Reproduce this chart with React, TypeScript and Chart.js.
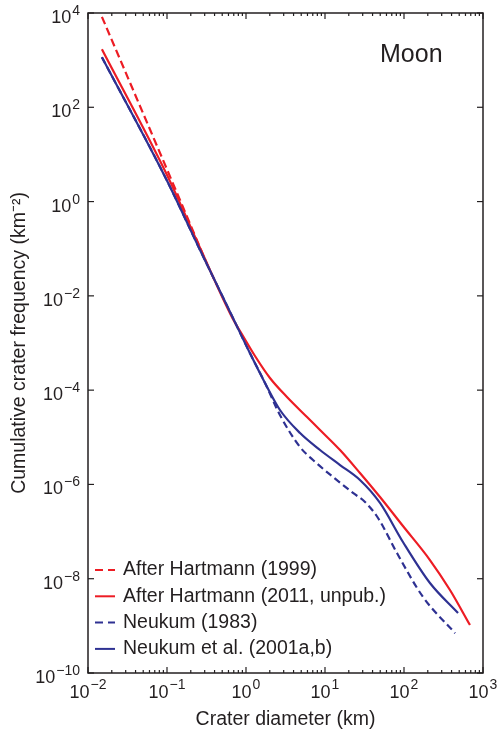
import React, { useEffect, useRef } from "react";
import { Chart, registerables } from "chart.js";

Chart.register(...registerables);

// ---- data (crater diameter in km, cumulative frequency in km^-2) ----
const hartmann1999D = [0.015, 0.146, 0.321];
const hartmann1999N = [8300, 1.08, 0.047];

const hartmann2011D = [0.015, 0.1, 0.262, 0.684, 0.916, 1.3, 2.01, 3.3, 5.92, 8.65, 15.5, 27.7, 49.7, 97, 213, 382, 684];
const hartmann2011N = [1700, 3.66, 0.1035, 3.23e-3, 1.41e-3, 5.3e-4, 1.81e-4, 7.15e-5, 2.69e-5, 1.43e-5, 5.37e-6, 1.75e-6, 5.41e-7, 1.31e-7, 2.49e-8, 5.75e-9, 1.04e-9];

const neukum1983D = [0.015, 0.099, 0.262, 0.684, 1.12, 1.74, 2.69, 4.83, 7.05, 12.6, 22.6, 32.1, 46.9, 81.5, 174, 443];
const neukum1983N = [1150, 2.87, 0.0937, 3.39e-3, 6.12e-4, 1.42e-4, 2.96e-5, 6.2e-6, 3.3e-6, 1.44e-6, 6.6e-7, 4.24e-7, 1.94e-7, 3.5e-8, 4.1e-9, 7.0e-10];

const neukum2001D = [0.015, 0.099, 0.262, 0.684, 1.12, 1.74, 2.69, 4.83, 8.65, 15.5, 27.7, 49.7, 97, 213, 483];
const neukum2001N = [1150, 2.87, 0.0937, 3.39e-3, 6.12e-4, 1.42e-4, 3.79e-5, 1.23e-5, 5.37e-6, 2.58e-6, 1.24e-6, 4.04e-7, 6.0e-8, 8.1e-9, 1.87e-9];

const seriesLabels = [
  "After Hartmann (1999)",
  "After Hartmann (2011, unpub.)",
  "Neukum (1983)",
  "Neukum et al. (2001a,b)",
];

const xTickExponents = [-2, -1, 0, 1, 2, 3];
const yTickExponents = [4, 2, 0, -2, -4, -6, -8, -10];
const xMinorMultipliers = [2, 3, 4, 5, 6, 7, 8, 9];

const panelLabel = "Moon";
const xTitle = "Crater diameter (km)";
const yTitle = "Cumulative crater frequency (km\u207B\u00B2)";

const RED = "#ed1c24";
const BLUE = "#2e3192";
const INK = "#231f20";
const FONT = "'Liberation Sans', Arial, Helvetica, sans-serif";

const expText = (e: number) => (e < 0 ? "\u2212" + Math.abs(e) : String(e));

const pts = (d: number[], n: number[]) => d.map((x, i) => ({ x, y: n[i] }));

const decorPlugin = {
  id: "decor",
  afterDraw(chart: any) {
    const { ctx, chartArea, scales } = chart;
    const { left, right, top, bottom } = chartArea;
    const xs = scales.x;
    const ys = scales.y;
    ctx.save();
    ctx.strokeStyle = INK;
    ctx.lineWidth = 1.5;
    ctx.strokeRect(left, top, right - left, bottom - top);
    ctx.lineWidth = 1.2;
    const seg = (x1: number, y1: number, x2: number, y2: number) => {
      ctx.beginPath();
      ctx.moveTo(x1, y1);
      ctx.lineTo(x2, y2);
      ctx.stroke();
    };
    xTickExponents.forEach((e) => {
      const px = xs.getPixelForValue(Math.pow(10, e));
      seg(px, bottom, px, bottom - 6);
      seg(px, top, px, top + 6);
      if (e < xTickExponents[xTickExponents.length - 1]) {
        xMinorMultipliers.forEach((m) => {
          const p = xs.getPixelForValue(m * Math.pow(10, e));
          seg(p, bottom, p, bottom - 3);
          seg(p, top, p, top + 3);
        });
      }
    });
    yTickExponents.forEach((e) => {
      const py = ys.getPixelForValue(Math.pow(10, e));
      seg(left, py, left + 6, py);
      seg(right, py, right - 6, py);
    });

    // tick labels: "10" with raised exponent
    const baseFont = `18px ${FONT}`;
    const supFont = `14px ${FONT}`;
    ctx.fillStyle = INK;
    ctx.textBaseline = "alphabetic";
    ctx.textAlign = "left";
    xTickExponents.forEach((e) => {
      const px = xs.getPixelForValue(Math.pow(10, e));
      ctx.font = baseFont;
      const wb = ctx.measureText("10").width;
      ctx.font = supFont;
      const es = expText(e);
      const ws = ctx.measureText(es).width;
      const x0 = px - (wb + ws + 1) / 2;
      ctx.font = baseFont;
      ctx.fillText("10", x0, bottom + 25);
      ctx.font = supFont;
      ctx.fillText(es, x0 + wb + 1, bottom + 16);
    });
    yTickExponents.forEach((e) => {
      const py = ys.getPixelForValue(Math.pow(10, e));
      ctx.font = supFont;
      const es = expText(e);
      const ws = ctx.measureText(es).width;
      ctx.font = baseFont;
      const wb = ctx.measureText("10").width;
      const xr = left - 8;
      ctx.font = baseFont;
      ctx.fillText("10", xr - ws - 1 - wb, py + 10);
      ctx.font = supFont;
      ctx.fillText(es, xr - ws, py + 2);
    });

    // panel label
    ctx.font = `25px ${FONT}`;
    ctx.fillText(panelLabel, right - 103, top + 49);

    // legend
    ctx.font = `19.5px ${FONT}`;
    ctx.textBaseline = "middle";
    chart.data.datasets.forEach((ds: any, row: number) => {
      const cy = 570 + row * 26.3;
      ctx.strokeStyle = ds.borderColor;
      ctx.lineWidth = 2;
      ctx.setLineDash(ds.borderDash && ds.borderDash.length ? [8, 5] : []);
      seg(left + 7, cy, left + 27, cy);
      ctx.setLineDash([]);
      ctx.fillStyle = INK;
      ctx.fillText(ds.label, left + 35, cy);
    });
    ctx.restore();
  },
};

export default function App() {
  const ref = useRef<HTMLCanvasElement | null>(null);
  useEffect(() => {
    if (!ref.current) return;
    const chart = new Chart(ref.current, {
      type: "line",
      data: {
        datasets: [
          {
            label: seriesLabels[0],
            data: pts(hartmann1999D, hartmann1999N),
            borderColor: RED,
            borderWidth: 2.2,
            borderDash: [8, 4],
            pointRadius: 0,
            cubicInterpolationMode: "monotone",
            order: 3,
          },
          {
            label: seriesLabels[1],
            data: pts(hartmann2011D, hartmann2011N),
            borderColor: RED,
            borderWidth: 2.2,
            pointRadius: 0,
            cubicInterpolationMode: "monotone",
            order: 1,
          },
          {
            label: seriesLabels[2],
            data: pts(neukum1983D, neukum1983N),
            borderColor: BLUE,
            borderWidth: 2.2,
            borderDash: [7, 4],
            pointRadius: 0,
            cubicInterpolationMode: "monotone",
            order: 4,
          },
          {
            label: seriesLabels[3],
            data: pts(neukum2001D, neukum2001N),
            borderColor: BLUE,
            borderWidth: 2.2,
            pointRadius: 0,
            cubicInterpolationMode: "monotone",
            order: 0,
          },
        ],
      },
      options: {
        responsive: false,
        animation: false,
        devicePixelRatio: 1,
        layout: { padding: { top: 13, right: 14, left: 0, bottom: 0 } },
        plugins: { legend: { display: false }, tooltip: { enabled: false } },
        scales: {
          x: {
            type: "logarithmic",
            min: 0.01,
            max: 1000,
            grid: { display: false, drawTicks: false },
            border: { display: false },
            ticks: { display: false },
            afterFit: (s: any) => {
              s.height = 60;
            },
            title: {
              display: true,
              text: xTitle,
              color: INK,
              font: { family: FONT, size: 19.5 },
              padding: { top: 0, bottom: 2 },
            },
          },
          y: {
            type: "logarithmic",
            min: 1e-10,
            max: 1e4,
            grid: { display: false, drawTicks: false },
            border: { display: false },
            ticks: { display: false },
            afterFit: (s: any) => {
              s.width = 88;
            },
            title: {
              display: true,
              text: yTitle,
              color: INK,
              font: { family: FONT, size: 19.5 },
              padding: { top: 8, bottom: 0 },
            },
          },
        },
      },
      plugins: [decorPlugin],
    } as any);
    return () => chart.destroy();
  }, []);

  return (
    <div style={{ position: "absolute", left: 0, top: 0, width: 497, height: 733, background: "#fff" }}>
      <canvas ref={ref} width={497} height={733} style={{ display: "block" }} />
    </div>
  );
}
